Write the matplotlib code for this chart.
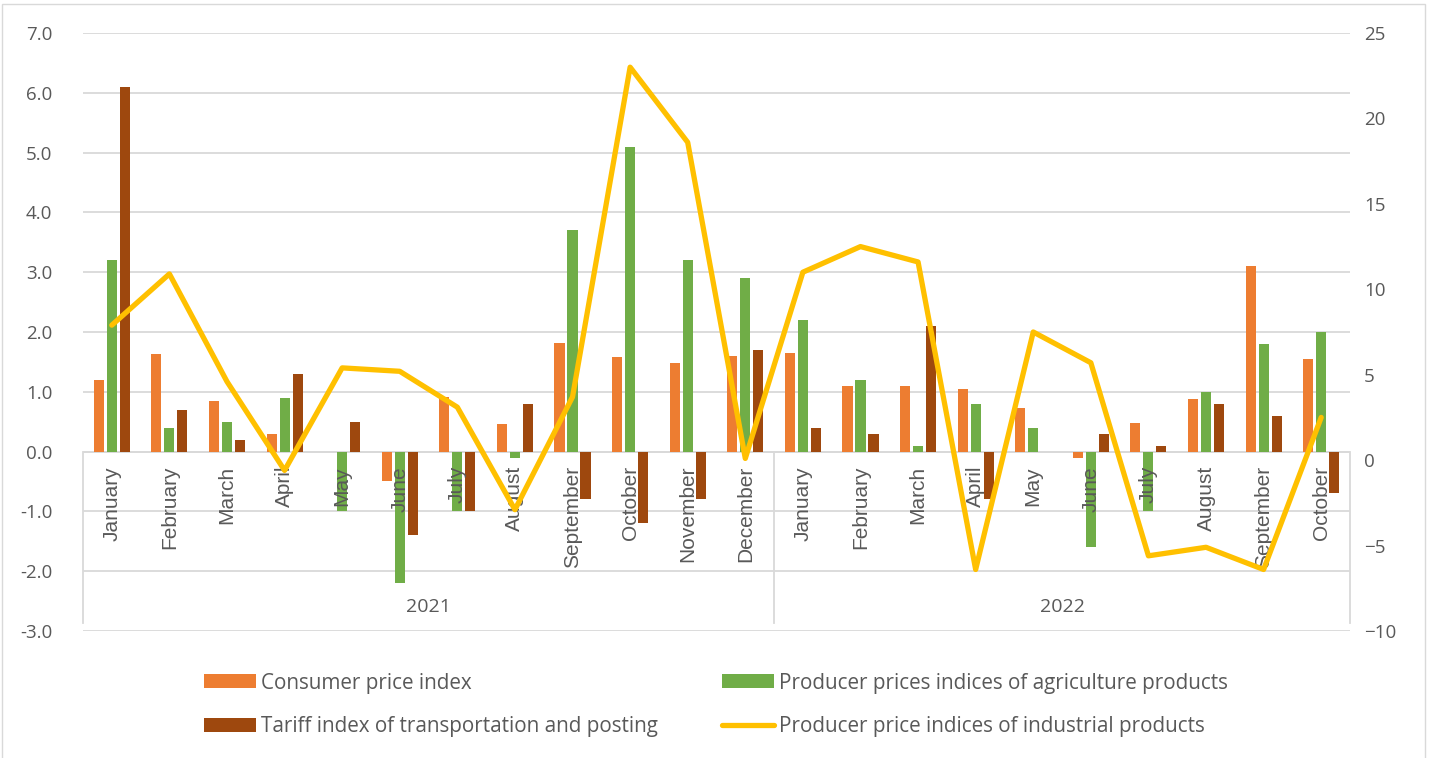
import matplotlib
matplotlib.use("Agg")
import matplotlib.pyplot as plt
from matplotlib.patches import Rectangle
import numpy as np

plt.rcParams['font.family'] = ['Open Sans', 'DejaVu Sans']

months = ["January", "February", "March", "April", "May", "June", "July",
          "August", "September", "October", "November", "December",
          "January", "February", "March", "April", "May", "June", "July",
          "August", "September", "October"]
years = ["2021", "2022"]
year_len = [12, 10]

# monthly changes, %
cpi = [1.2, 1.63, 0.85, 0.3, 0.0, -0.5, 0.92, 0.46, 1.82, 1.58, 1.48, 1.6,
       1.65, 1.1, 1.1, 1.04, 0.73, -0.1, 0.47, 0.88, 3.1, 1.55]
agri = [3.2, 0.4, 0.5, 0.9, -1.0, -2.2, -1.0, -0.1, 3.7, 5.1, 3.2, 2.9,
        2.2, 1.2, 0.1, 0.8, 0.4, -1.6, -1.0, 1.0, 1.8, 2.0]
tariff = [6.1, 0.7, 0.2, 1.3, 0.5, -1.4, -1.0, 0.8, -0.8, -1.2, -0.8, 1.7,
          0.4, 0.3, 2.1, -0.8, 0.0, 0.3, 0.1, 0.8, 0.6, -0.7]
ppi = [7.9, 10.9, 4.6, -0.6, 5.4, 5.2, 3.1, -2.9, 3.7, 23.0, 18.6, 0.1,
       11.0, 12.5, 11.6, -6.4, 7.5, 5.7, -5.6, -5.1, -6.4, 2.5]

c_cpi = "#ED7D31"
c_agri = "#70AD47"
c_tar = "#9E480E"
c_ppi = "#FFC000"
grid_c = "#D9D9D9"
txt_c = "#595959"

W, H = 1429, 758
fig = plt.figure(figsize=(W / 100, H / 100), dpi=100)
fig.patches.append(Rectangle((2 / W, -0.05), (W - 6) / W, 1.05 - 4 / H,
                             transform=fig.transFigure, fill=False,
                             edgecolor=grid_c, linewidth=1))

ax = fig.add_axes([83 / W, 1 - 631 / H, (1350 - 83) / W, (631 - 33) / H])
x = np.arange(len(months))
bw = 0.175
step = 0.226
ax.bar(x - step, cpi, bw, color=c_cpi, label="Consumer price index", zorder=3)
ax.bar(x, agri, bw, color=c_agri,
       label="Producer prices indices of agriculture products", zorder=3)
ax.bar(x + step, tariff, bw, color=c_tar,
       label="Tariff index of transportation and posting", zorder=3)

ax.set_xlim(-0.5, len(months) - 0.5)
ax.set_ylim(-3, 7)
ax.set_yticks(np.arange(-3, 8, 1))
ax.set_yticklabels([f"{v:.1f}" for v in np.arange(-3, 8, 1)])
ax.set_xticks([])
ax.grid(axis="y", color=grid_c, linewidth=1.3, zorder=0)
for s in ax.spines.values():
    s.set_visible(False)
ax.tick_params(axis="y", length=0, pad=22, labelsize=13.5, labelcolor=txt_c)

# category axis (Excel style, inside plot)
ax.axhline(0, color=grid_c, linewidth=1.3, zorder=2)
for i, m in enumerate(months):
    ax.text(i, -0.24, m, rotation=90, ha="center", va="top",
            fontsize=15, color=txt_c, zorder=4, family="Liberation Sans")
start = 0
seps = [-0.5]
for yr, n in zip(years, year_len):
    ax.text(start + (n - 1) / 2, -2.6, yr, ha="center", va="center",
            fontsize=14, color=txt_c)
    start += n
    seps.append(start - 0.5)
for sx in seps:
    ax.plot([sx, sx], [0, -2.87], color=grid_c, linewidth=1.3, zorder=2,
            clip_on=False)

ax2 = ax.twinx()
ax2.plot(x, ppi, color=c_ppi, linewidth=3.8, solid_joinstyle="round",
         solid_capstyle="round",
         label="Producer price indices of industrial products", zorder=5)
ax2.set_ylim(-10, 25)
ax2.set_yticks(np.arange(-10, 26, 5))
for s in ax2.spines.values():
    s.set_visible(False)
ax2.tick_params(axis="y", length=0, pad=10, labelsize=13.5, labelcolor=txt_c)

h1, l1 = ax.get_legend_handles_labels()
h2, l2 = ax2.get_legend_handles_labels()
handles = [h1[0], h1[2], h1[1], h2[0]]
labels = [l1[0], l1[2], l1[1], l2[0]]
fig.legend(handles, labels, ncol=2, loc="center",
           bbox_to_anchor=(716 / W, 1 - 705 / H), frameon=False,
           fontsize=14.9, labelcolor=txt_c, handlelength=2.53,
           handleheight=0.68, columnspacing=3.1, handletextpad=0.24,
           labelspacing=1.1)

fig.savefig("out.png", dpi=100)
